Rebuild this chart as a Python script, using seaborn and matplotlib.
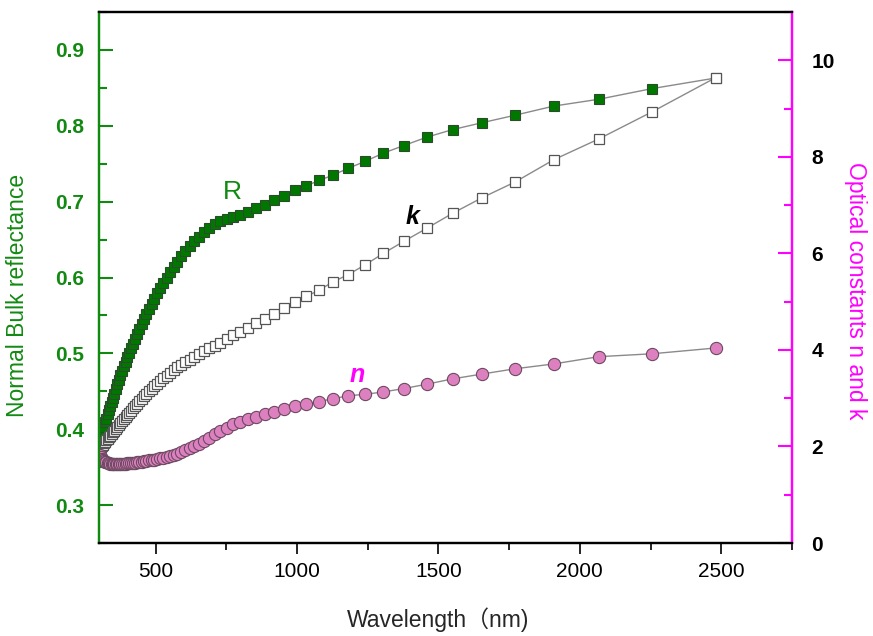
import pandas as pd
import seaborn as sns
import matplotlib.pyplot as plt
from matplotlib.ticker import MultipleLocator

# wavelength (nm), one point every 0.05 eV from 4.10 eV down to 0.50 eV
wavelength = [302.4, 306.2, 310.0, 313.9, 317.9, 322.1, 326.3, 330.7, 335.1, 339.7,
              344.4, 349.3, 354.3, 359.4, 364.7, 370.1, 375.8, 381.5, 387.5, 393.7,
              400.0, 406.6, 413.3, 420.3, 427.6, 435.1, 442.9, 450.9, 459.3, 467.9,
              476.9, 486.3, 496.0, 506.1, 516.7, 527.7, 539.1, 551.1, 563.6, 576.7,
              590.5, 604.9, 620.0, 635.9, 652.6, 670.3, 688.9, 708.6, 729.4, 751.5,
              775.0, 800.0, 826.7, 855.2, 885.7, 918.5, 953.8, 992.0, 1033.3, 1078.3,
              1127.3, 1181.0, 1240.0, 1305.3, 1377.8, 1458.8, 1550.0, 1653.3, 1771.4, 1907.7,
              2066.7, 2254.5, 2480.0]

# normal bulk reflectance (left axis)
refl = [0.381, 0.387, 0.392, 0.398, 0.403, 0.409, 0.414, 0.420, 0.425, 0.430,
        0.436, 0.441, 0.447, 0.453, 0.459, 0.465, 0.471, 0.477, 0.483, 0.489,
        0.495, 0.501, 0.507, 0.513, 0.519, 0.526, 0.532, 0.539, 0.545, 0.552,
        0.558, 0.565, 0.572, 0.579, 0.586, 0.593, 0.600, 0.607, 0.614, 0.621,
        0.628, 0.635, 0.642, 0.648, 0.654, 0.660, 0.665, 0.670, 0.674, 0.677,
        0.680, 0.683, 0.687, 0.691, 0.696, 0.702, 0.708, 0.715, 0.721, 0.728,
        0.735, 0.744, 0.753, 0.764, 0.774, 0.785, 0.795, 0.804, 0.814, 0.826,
        0.835, 0.849, 0.863]

# extinction coefficient k (right axis)
k_vals = [1.95, 1.98, 2.01, 2.04, 2.07, 2.10, 2.13, 2.16, 2.19, 2.22,
          2.26, 2.29, 2.33, 2.37, 2.41, 2.45, 2.49, 2.53, 2.57, 2.61,
          2.65, 2.70, 2.74, 2.79, 2.84, 2.89, 2.94, 2.99, 3.04, 3.09,
          3.14, 3.20, 3.25, 3.30, 3.36, 3.41, 3.47, 3.53, 3.58, 3.64,
          3.69, 3.75, 3.80, 3.86, 3.92, 3.98, 4.03, 4.08, 4.15, 4.22,
          4.30, 4.38, 4.46, 4.55, 4.64, 4.75, 4.86, 4.99, 5.11, 5.24,
          5.41, 5.56, 5.76, 6.00, 6.25, 6.52, 6.83, 7.15, 7.48, 7.94,
          8.37, 8.93, 9.64]

# refractive index n (right axis)
n_vals = [1.82, 1.78, 1.75, 1.72, 1.70, 1.68, 1.67, 1.66, 1.65, 1.645,
          1.64, 1.64, 1.635, 1.635, 1.635, 1.635, 1.635, 1.64, 1.64, 1.645,
          1.65, 1.65, 1.655, 1.66, 1.665, 1.67, 1.675, 1.68, 1.69, 1.70,
          1.71, 1.72, 1.73, 1.74, 1.755, 1.77, 1.785, 1.80, 1.82, 1.85,
          1.88, 1.92, 1.96, 2.01, 2.06, 2.12, 2.18, 2.25, 2.32, 2.39,
          2.46, 2.51, 2.56, 2.62, 2.67, 2.72, 2.77, 2.83, 2.88, 2.93,
          2.99, 3.05, 3.08, 3.13, 3.20, 3.29, 3.40, 3.50, 3.61, 3.71,
          3.86, 3.92, 4.04]

df = pd.DataFrame({'wl': wavelength, 'R': refl, 'k': k_vals, 'n': n_vals})

GREEN = '#128a12'
MAGENTA = '#ff00ff'

sns.set_style("white")
plt.rcParams['font.family'] = ['Liberation Sans', 'Noto Sans CJK SC', 'DejaVu Sans']

fig = plt.figure(figsize=(8.73, 6.36), dpi=100)
ax = fig.add_axes([0.1134, 0.1462, 0.7938, 0.8349])
ax2 = ax.twinx()

# R on the left axis
sns.lineplot(data=df, x='wl', y='R', ax=ax, color='#8a8a8a', lw=1,
             marker='s', markersize=7.8, markerfacecolor='#007800',
             markeredgecolor='#2c4a2c', markeredgewidth=0.8, estimator=None)

# k and n on the right axis
sns.lineplot(data=df, x='wl', y='k', ax=ax2, color='#8a8a8a', lw=1,
             marker='s', markersize=7.8, markerfacecolor='white',
             markeredgecolor='#555555', markeredgewidth=0.9, estimator=None)
sns.lineplot(data=df, x='wl', y='n', ax=ax2, color='#8a8a8a', lw=1,
             marker='o', markersize=8.8, markerfacecolor='#dd80c0',
             markeredgecolor='#6d4a62', markeredgewidth=0.8, estimator=None)

ax.set_xlim(300, 2750)
ax.set_ylim(0.25, 0.95)
ax2.set_ylim(0, 11)

ax.xaxis.set_major_locator(MultipleLocator(500))
ax.xaxis.set_minor_locator(MultipleLocator(250))
ax.yaxis.set_major_locator(MultipleLocator(0.1))
ax.yaxis.set_minor_locator(MultipleLocator(0.05))
ax2.yaxis.set_major_locator(MultipleLocator(2))
ax2.yaxis.set_minor_locator(MultipleLocator(1))

# spines
for a in (ax, ax2):
    a.spines['top'].set_color('black')
    a.spines['bottom'].set_color('black')
    a.spines['left'].set_color(GREEN)
    a.spines['right'].set_color(MAGENTA)
    for s in a.spines.values():
        s.set_linewidth(1.6)

ax.tick_params(axis='x', which='both', direction='out', bottom=True, top=False,
               colors='black', labelsize=15, width=1.2, pad=6)
ax.tick_params(axis='x', which='major', length=8)
ax.tick_params(axis='x', which='minor', length=5)
ax.tick_params(axis='y', which='both', direction='in', left=True, right=False,
               colors=GREEN, labelsize=15, width=1.5, pad=11)
ax.tick_params(axis='y', which='major', length=10)
ax.tick_params(axis='y', which='minor', length=6)
ax2.tick_params(axis='y', which='both', direction='in', right=True, left=False,
                color=MAGENTA, labelcolor='black', labelsize=15, width=1.5, pad=14)
ax2.tick_params(axis='y', which='major', length=10)
ax2.tick_params(axis='y', which='minor', length=6)

for lab in ax.get_yticklabels() + ax2.get_yticklabels():
    lab.set_fontweight('bold')

ax.set_xlabel('Wavelength（nm)', fontsize=16.5, va='center')
ax.xaxis.set_label_coords(0.49, -0.145)
ax.set_ylabel('Normal Bulk reflectance', fontsize=16.5, color=GREEN, va='center')
ax.yaxis.set_label_coords(-0.117, 0.467)
ax2.set_ylabel('Optical constants n and k', fontsize=16.5, color=MAGENTA,
               rotation=270, va='center')
ax2.yaxis.set_label_coords(1.091, 0.475)

# curve labels
ax.text(770, 0.713, 'R', color=GREEN, fontsize=19, ha='center', va='center')
ax.text(1407, 0.680, 'k', color='black', fontsize=18, fontweight='bold',
        style='italic', ha='center', va='center')
ax.text(1213, 0.4715, 'n', color=MAGENTA, fontsize=18, fontweight='bold',
        style='italic', ha='center', va='center')

fig.savefig('out.png', dpi=100)
